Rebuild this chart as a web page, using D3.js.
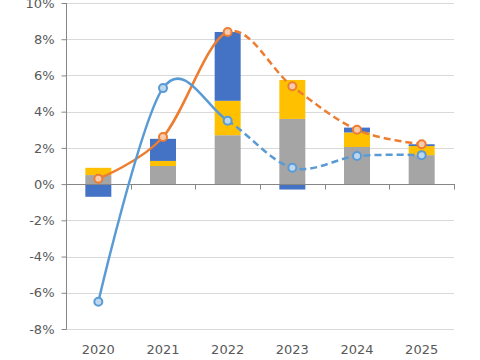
<!DOCTYPE html>
<html><head><meta charset="utf-8">
<script src="https://cdn.jsdelivr.net/npm/d3@7"></script>
<style>body{margin:0;background:#fff}svg{display:block}</style>
</head><body>
<svg id="c" width="480" height="360"></svg>
<script>
const years = ["2020","2021","2022","2023","2024","2025"];
const grayVals = [0.5, 1.0, 2.7, 3.6, 2.05, 1.6];
const yellowVals = [0.4, 0.28, 1.9, 2.15, 0.8, 0.5];
const blueVals = [-0.7, 1.22, 3.8, -0.3, 0.27, 0.1];
const blueLine = [-6.5, 5.3, 3.5, 0.9, 1.55, 1.6];
const orangeLine = [0.3, 2.6, 8.4, 5.4, 3.0, 2.2];
const yTicks = [-8,-6,-4,-2,0,2,4,6,8,10];

const svg = d3.select("#c");
const x = d3.scaleBand().domain(years).range([66,454]).paddingInner(0).paddingOuter(0);
const y = d3.scaleLinear().domain([-8,10]).range([329,3]);
const font = "DejaVu Sans, Verdana, sans-serif";
const txt = "#595959", axc = "#868686";

// gridlines
svg.append("g").selectAll("line").data(yTicks.filter(d=>d!==0)).join("line")
  .attr("x1",66).attr("x2",454).attr("y1",d=>Math.round(y(d))+0.5).attr("y2",d=>Math.round(y(d))+0.5)
  .attr("stroke","#d9d9d9").attr("stroke-width",1);

// stacked bars
const rows = years.map((yr,i)=>({year:yr, gray:grayVals[i], yellow:yellowVals[i], blue:blueVals[i]}));
const keys = ["gray","yellow","blue"];
const colors = {gray:"#a5a5a5", yellow:"#ffc000", blue:"#4472c4"};
const stack = d3.stack().keys(keys).offset(d3.stackOffsetDiverging)(rows);
const bw = 26;
svg.append("g").selectAll("g").data(stack).join("g").attr("fill",d=>colors[d.key])
  .selectAll("rect").data(d=>d).join("rect")
  .attr("x",d=>x(d.data.year)+x.bandwidth()/2-bw/2).attr("width",bw)
  .attr("y",d=>y(Math.max(d[0],d[1]))).attr("height",d=>Math.abs(y(d[0])-y(d[1])));

// axes
const yAxis = d3.axisLeft(y).tickValues(yTicks).tickSize(5).tickPadding(7).tickFormat(d=>d+"%");
const gy = svg.append("g").attr("transform","translate(66.5,0)").call(yAxis);
gy.select(".domain").attr("stroke",axc).attr("d","M-0.5,"+y(-8)+"H0V"+y(10));
gy.selectAll(".tick line").attr("stroke",axc);
gy.selectAll("text").attr("fill",txt).style("font-family",font).style("font-size","13px");

const gx = svg.append("g").attr("transform","translate(0,"+(Math.round(y(0))+0.5)+")");
gx.append("line").attr("x1",66).attr("x2",455).attr("stroke",axc);
const bounds = years.map(v=>x(v)).concat([x.range()[1]]);
gx.selectAll("line.t").data(bounds).join("line").attr("class","t")
  .attr("x1",d=>Math.round(d)+0.5).attr("x2",d=>Math.round(d)+0.5).attr("y1",0).attr("y2",5).attr("stroke",axc);
svg.append("g").selectAll("text").data(years).join("text")
  .attr("x",d=>x(d)+x.bandwidth()/2).attr("y",354).attr("text-anchor","middle")
  .attr("fill",txt).style("font-family",font).style("font-size","13px").text(d=>d);

// lines
const defs = svg.append("defs");
const splitX = x("2022")+x.bandwidth()/2;
defs.append("clipPath").attr("id","left").append("rect").attr("x",0).attr("y",0).attr("width",splitX).attr("height",360);
defs.append("clipPath").attr("id","right").append("rect").attr("x",splitX).attr("y",0).attr("width",480-splitX).attr("height",360);
const line = d3.line().x((d,i)=>x(years[i])+x.bandwidth()/2).y(d=>y(d)).curve(d3.curveCardinal.tension(0));

function drawSeries(vals, col, fillCol){
  const g = svg.append("g");
  g.append("path").attr("d",line(vals)).attr("fill","none").attr("stroke",col).attr("stroke-width",2.5).attr("clip-path","url(#left)");
  g.append("path").attr("d",line(vals)).attr("fill","none").attr("stroke",col).attr("stroke-width",2.5).attr("stroke-dasharray","7,4").attr("clip-path","url(#right)");
  g.selectAll("circle").data(vals).join("circle")
    .attr("cx",(d,i)=>x(years[i])+x.bandwidth()/2).attr("cy",d=>y(d)).attr("r",4)
    .attr("fill",fillCol).attr("stroke",col).attr("stroke-width",2);
}
drawSeries(orangeLine,"#ed7d31","#f8cbad");
drawSeries(blueLine,"#5b9bd5","#bdd7ee");
</script>
</body></html>
